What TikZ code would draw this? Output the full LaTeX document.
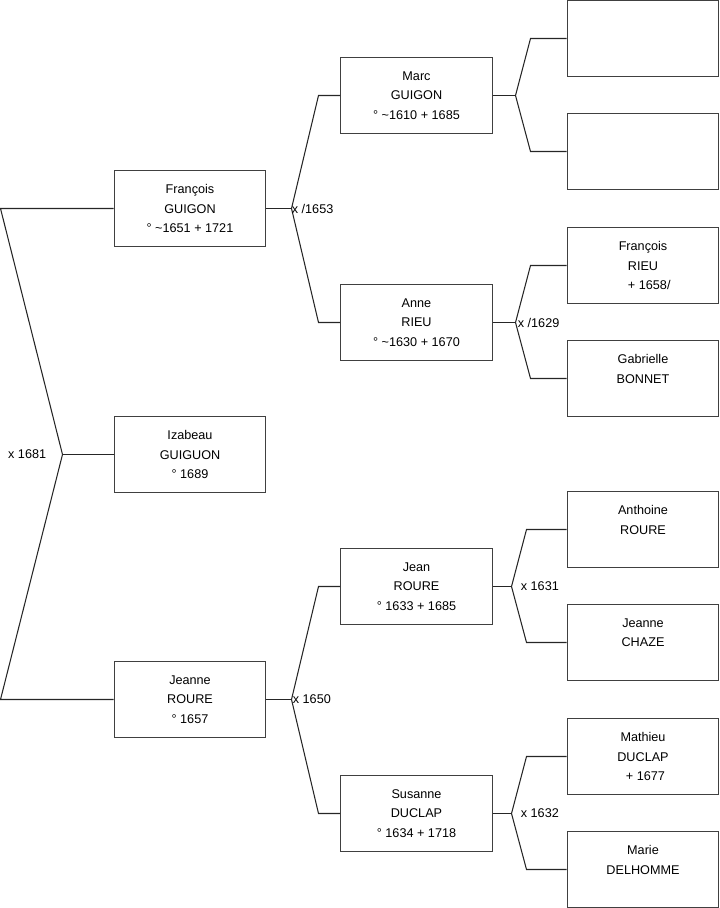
\documentclass[tikz,border=0pt]{standalone}
\usepackage{fontspec}
\setmainfont{Liberation Sans}
\usetikzlibrary{calc}
\tikzset{
  person/.style={draw=black!75,line width=0.6pt,minimum width=3.03cm,minimum height=1.52cm,
    align=center,inner sep=0pt,font=\fontsize{7.2}{11}\selectfont},
  link/.style={draw=black!85,line width=0.6pt},
  union/.style={inner sep=0pt,font=\fontsize{7.2}{11}\selectfont}
}
\begin{document}
\begin{tikzpicture}[x=0.02cm,y=-0.02cm]
        \useasboundingbox (0,0) rectangle (719,908);
        \begin{scope}[xshift=0.01cm,yshift=-0.01cm]
        % first column
        \node[person] (francois) at (189.5,208) {François\\GUIGON\\° \textasciitilde1651 + 1721};
        \node[person] (izabeau) at (189.5,454) {Izabeau\\GUIGUON\\° 1689};
        \node[person] (jeanne) at (189.5,699) {Jeanne\\ROURE\\° 1657};
        % second column
        \node[person] (marc) at (416,95) {Marc\\GUIGON\\° \textasciitilde1610 + 1685};
        \node[person] (anne) at (416,322) {Anne\\RIEU\\° \textasciitilde1630 + 1670};
        \node[person] (jean) at (416,586) {Jean\\ROURE\\° 1633 + 1685};
        \node[person] (susanne) at (416,813) {Susanne\\DUCLAP\\° 1634 + 1718};
        % third column
        \node[person] (unknownA) at (642.5,38) {};
        \node[person] (unknownB) at (642.5,151) {};
        \node[person] (francoisr) at (642.5,265) {François\\RIEU\\\hspace*{0.25cm}+ 1658/};
        \node[person] (gabrielle) at (642.5,378) {Gabrielle\\BONNET\\\mbox{}};
        \node[person] (anthoine) at (642.5,529) {Anthoine\\ROURE\\\mbox{}};
        \node[person] (jeannec) at (642.5,642) {Jeanne\\CHAZE\\\mbox{}};
        \node[person] (mathieu) at (642.5,756) {Mathieu\\DUCLAP\\\hspace*{0.1cm}+ 1677};
        \node[person] (marie) at (642.5,869) {Marie\\DELHOMME\\\mbox{}};
        % forks
        \coordinate (v0) at (62,454);
        \coordinate (v0a) at (0,208);
        \coordinate (v0b) at (0,699);
        \draw[link] (francois.west) -- (v0a) -- (v0) -- (v0b) -- (jeanne.west);
        \draw[link] (v0) -- (izabeau.west);
        \coordinate (v1) at (291,208);
        \coordinate (v1a) at (318,95);
        \coordinate (v1b) at (318,322);
        \draw[link] (francois.east) -- (v1);
        \draw[link] (marc.west) -- (v1a) -- (v1) -- (v1b) -- (anne.west);
        \coordinate (v2) at (291,699);
        \coordinate (v2a) at (318,586);
        \coordinate (v2b) at (318,813);
        \draw[link] (jeanne.east) -- (v2);
        \draw[link] (jean.west) -- (v2a) -- (v2) -- (v2b) -- (susanne.west);
        \coordinate (v3) at (515,95);
        \coordinate (v3a) at (530,38);
        \coordinate (v3b) at (530,151);
        \draw[link] (marc.east) -- (v3);
        \draw[link] (unknownA.west) -- (v3a) -- (v3) -- (v3b) -- (unknownB.west);
        \coordinate (v4) at (515,322);
        \coordinate (v4a) at (530,265);
        \coordinate (v4b) at (530,378);
        \draw[link] (anne.east) -- (v4);
        \draw[link] (francoisr.west) -- (v4a) -- (v4) -- (v4b) -- (gabrielle.west);
        \coordinate (v5) at (511,586);
        \coordinate (v5a) at (526,529);
        \coordinate (v5b) at (526,642);
        \draw[link] (jean.east) -- (v5);
        \draw[link] (anthoine.west) -- (v5a) -- (v5) -- (v5b) -- (jeannec.west);
        \coordinate (v6) at (511,813);
        \coordinate (v6a) at (526,756);
        \coordinate (v6b) at (526,869);
        \draw[link] (susanne.east) -- (v6);
        \draw[link] (mathieu.west) -- (v6a) -- (v6) -- (v6b) -- (marie.west);
        % marriages
        \node[union,anchor=east] (m0) at (46,454) {x 1681};
        \node[union,anchor=west] (m1) at (291,208) {x /1653};
        \node[union,anchor=west] (m2) at (292,699) {x 1650};
        \node[union,anchor=west] (m4) at (517,322) {x /1629};
        \node[union,anchor=west] (m5) at (520,586) {x 1631};
        \node[union,anchor=west] (m6) at (520,813) {x 1632};
        \end{scope}
\end{tikzpicture}
\end{document}
